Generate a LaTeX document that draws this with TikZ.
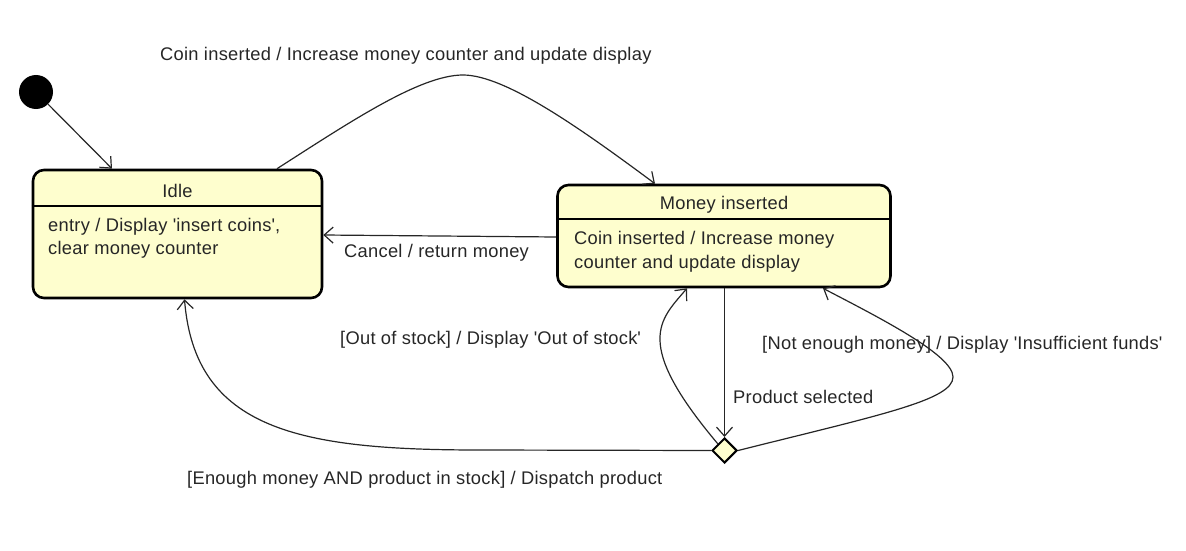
\documentclass[tikz,border=0pt]{standalone}
\usepackage{fontspec}
\setmainfont{Liberation Sans}[LetterSpace=1.5]
\usetikzlibrary{arrows.meta,shapes.geometric}
\definecolor{stfill}{HTML}{FEFECE}
\definecolor{txt}{HTML}{262626}
\newcommand{\sq}{\textquotesingle}
\begin{document}
\begin{tikzpicture}[x=1pt,y=-1pt,
  font=\fontsize{18.3}{22}\selectfont,
  statebox/.style={draw=black,fill=stfill,line width=2.6pt,rounded corners=11pt,inner sep=0pt},
  lbl/.style={anchor=base west,inner sep=0pt,text=txt},
  ttl/.style={anchor=base,inner sep=0pt,text=txt},
  conn/.style={draw=black!85,line width=1.2pt,-{Straight Barb[length=9pt,width=16pt,line width=1.2pt]}},
  sep/.style={draw=black,line width=1.1pt}]
\useasboundingbox (0,0) rectangle (1186,551);

% initial state
\node[circle,fill=black,minimum size=34pt,inner sep=0pt] (init) at (36,92) {};

% states
\node[statebox,minimum width=289pt,minimum height=128pt] (idle) at (177.5,234) {};
\node[statebox,minimum width=333pt,minimum height=102pt] (money) at (724,236) {};
\node[diamond,draw=black,fill=stfill,line width=2pt,inner sep=0pt,minimum width=25pt,minimum height=25pt] (dia) at (724.5,450.5) {};

% separators
\coordinate (idlesepL) at (idle.west |- 0,206);
\coordinate (idlesepR) at (idle.east |- 0,206);
\draw[sep] (idlesepL) -- (idlesepR);
\coordinate (monsepL) at (money.west |- 0,219);
\coordinate (monsepR) at (money.east |- 0,219);
\draw[sep] (monsepL) -- (monsepR);

% state texts
\node[ttl] (idlet) at (177.5,197) {Idle};
\node[lbl] (idleb1) at (48,231) {entry / Display \sq insert coins\sq,};
\node[lbl] (idleb2) at (48,254) {clear money counter};
\node[ttl] (mont) at (724,209) {Money inserted};
\node[lbl] (monb1) at (574,244) {Coin inserted / Increase money};
\node[lbl] (monb2) at (574,268) {counter and update display};

% connectors
\draw[conn] (init) -- ([xshift=-65.5pt]idle.north);
\draw[conn] ([xshift=99.5pt]idle.north) .. controls (350,122) and (420,75) .. (463,75)
   .. controls (505,75) and (580,128) .. ([xshift=-69pt]money.north);
\draw[conn] ([yshift=-1pt]money.west) -- ([yshift=-1pt]idle.east);
\draw[conn] (money.south -| dia.north) -- (dia.north);
\draw[conn] (dia.north west) .. controls (632,342) and (660,320) .. ([xshift=-37pt]money.south);
\draw[conn] (dia.east) .. controls (880,415) and (953,400) .. (953,377)
   .. controls (953,355) and (880,318) .. ([xshift=99pt]money.south);
\draw[conn] (dia.west) -- (480,450) .. controls (300,450) and (195,430) .. ([xshift=7pt]idle.south);

% labels
\node[lbl] (l1) at (160,61) {Coin inserted / Increase money counter and update display};
\node[lbl] (l2) at (344,257) {Cancel / return money};
\node[lbl] (l3) at (340,344) {[Out of stock] / Display \sq Out of stock\sq};
\node[lbl] (l4) at (733,403) {Product selected};
\node[lbl] (l5) at (762,349) {[Not enough money] / Display \sq Insufficient funds\sq};
\node[lbl] (l6) at (187,484) {[Enough money AND product in stock] / Dispatch product};
\end{tikzpicture}
\end{document}
